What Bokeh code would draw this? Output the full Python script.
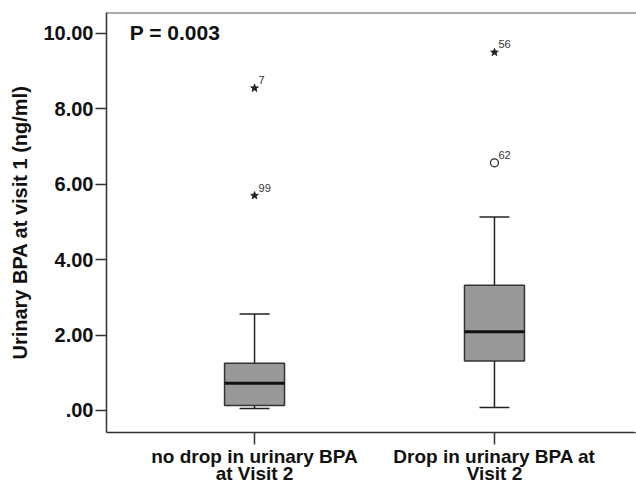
from bokeh.plotting import figure
from bokeh.models import FixedTicker, Span, ColumnDataSource
from bokeh.core.properties import value
from bokeh.embed import file_html
from bokeh.resources import INLINE

# ---- data ----
categories = ["no drop in urinary BPA\nat Visit 2", "Drop in urinary BPA at\nVisit 2"]
cat_pos = [0, 1]
lower_whisker = [0.05, 0.08]
q1 = [0.13, 1.31]
median = [0.72, 2.09]
q3 = [1.25, 3.32]
upper_whisker = [2.56, 5.13]

extreme_group = [0, 0, 1]
extreme_values = [8.55, 5.70, 9.50]
extreme_labels = ["7", "99", "56"]

mild_group = [1]
mild_values = [6.57]
mild_labels = ["62"]

y_ticks = [0, 2, 4, 6, 8, 10]
y_tick_labels = [".00", "2.00", "4.00", "6.00", "8.00", "10.00"]
p_text = "P = 0.003"
y_title = "Urinary BPA at visit 1 (ng/ml)"

FONT = "Liberation Sans"
Y0, Y1 = -0.584, 10.557
X0, X1 = -0.617, 1.592

p = figure(width=636, height=487, output_backend="svg", toolbar_location=None,
           x_range=(X0, X1), y_range=(Y0, Y1),
           min_border_left=106, min_border_right=0, min_border_top=12, min_border_bottom=55)
p.grid.visible = False
p.outline_line_color = None
for attr in ("frame_line_color",):
    if attr in p.properties():
        setattr(p, attr, None)
p.background_fill_color = "white"
p.border_fill_color = "white"

# axes
p.yaxis.ticker = FixedTicker(ticks=y_ticks)
p.yaxis.major_label_overrides = {t: l for t, l in zip(y_ticks, y_tick_labels)}
p.yaxis.minor_tick_line_color = None
p.yaxis.major_tick_out = 11
p.yaxis.major_tick_in = 0
p.yaxis.major_label_standoff = 2
p.yaxis.axis_label = y_title
p.yaxis.axis_label_standoff = 9
p.yaxis.axis_label_text_font = FONT
p.yaxis.axis_label_text_font_style = "bold"
p.yaxis.axis_label_text_font_size = "20px"
p.yaxis.axis_label_text_color = "#111111"

p.xaxis.ticker = FixedTicker(ticks=cat_pos)
p.xaxis.major_label_overrides = {c: l for c, l in zip(cat_pos, categories)}
p.xaxis.minor_tick_line_color = None
p.xaxis.major_tick_out = 12
p.xaxis.major_tick_in = 0
p.xaxis.major_label_standoff = 1

for ax in (p.xaxis, p.yaxis):
    ax.axis_line_color = "#333333"
    ax.axis_line_width = 1.5
    ax.major_tick_line_color = "#333333"
    ax.major_tick_line_width = 1.5
    ax.major_label_text_font = FONT
    ax.major_label_text_font_style = "bold"
    ax.major_label_text_font_size = "20px"
    ax.major_label_text_color = "#111111"

p.xaxis.major_label_text_font_size = "19px"
p.xaxis.major_label_text_line_height = 0.85

# hide the right frame edge, draw the top border line
p.add_layout(Span(location=X1, dimension="height", line_color="white", line_width=4, level="overlay"))
p.add_layout(Span(location=Y1, dimension="width", line_color="#555555", line_width=2, level="overlay"))

src = ColumnDataSource(dict(x=cat_pos, lw=lower_whisker, q1=q1, med=median, q3=q3, uw=upper_whisker))
box_w = 0.25
cap_w = 0.125

# whisker stems
p.segment(x0="x", y0="q3", x1="x", y1="uw", source=src, line_color="#222222", line_width=1.5)
p.segment(x0="x", y0="q1", x1="x", y1="lw", source=src, line_color="#222222", line_width=1.5)
# caps
caps_x0 = [x - cap_w / 2 for x in cat_pos]
caps_x1 = [x + cap_w / 2 for x in cat_pos]
p.segment(x0=caps_x0, y0=upper_whisker, x1=caps_x1, y1=upper_whisker, line_color="#222222", line_width=1.5)
p.segment(x0=caps_x0, y0=lower_whisker, x1=caps_x1, y1=lower_whisker, line_color="#222222", line_width=1.5)
# boxes
p.vbar(x="x", width=box_w, bottom="q1", top="q3", source=src,
       fill_color="#999999", line_color="#333333", line_width=1.5)
# medians
p.segment(x0=[x - box_w / 2 for x in cat_pos], y0=median, x1=[x + box_w / 2 for x in cat_pos], y1=median,
          line_color="#111111", line_width=3)

# outliers
p.scatter(x=extreme_group, y=extreme_values, marker="star", size=8,
          fill_color="#222222", line_color="#222222")
p.scatter(x=mild_group, y=mild_values, marker="circle", size=8,
          fill_color=None, line_color="#222222", line_width=1.2)
p.text(x=extreme_group + mild_group, y=extreme_values + mild_values, text=extreme_labels + mild_labels,
       x_offset=4, y_offset=-4, text_font=value(FONT), text_font_size="11px", text_color="#333333",
       text_baseline="bottom", text_align="left")

# P value annotation
p.text(x=[-0.52], y=[10.03], text=[p_text], text_font=value(FONT), text_font_style="bold",
       text_font_size="21px", text_color="#111111", text_baseline="middle", text_align="left")

open("out.html", "w").write(file_html(p, INLINE))
